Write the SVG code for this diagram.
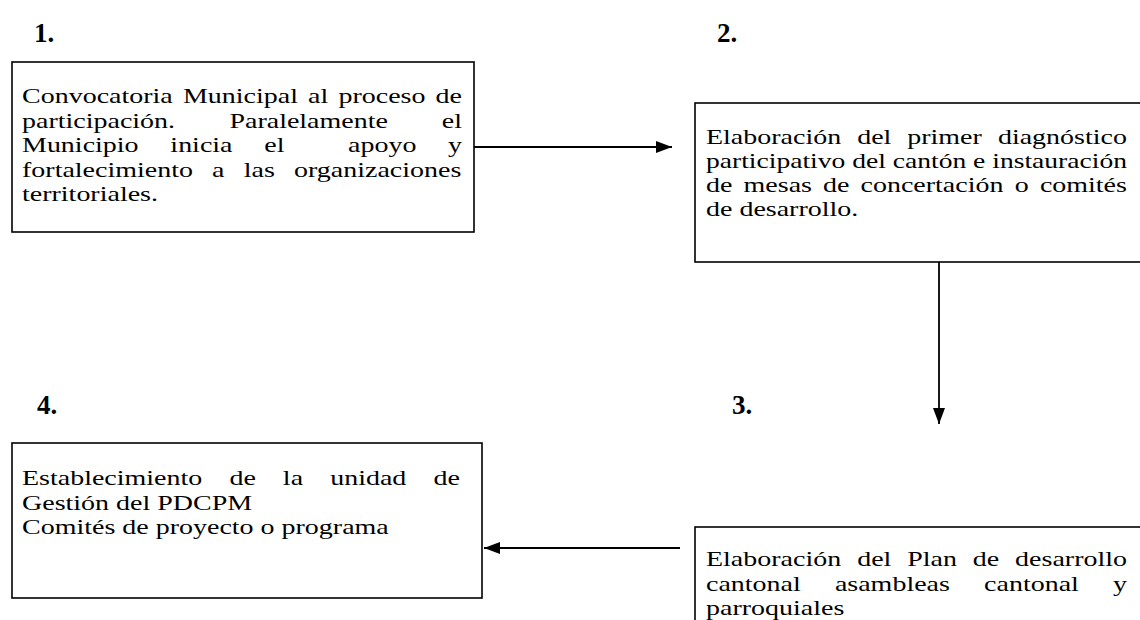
<svg xmlns="http://www.w3.org/2000/svg" width="1140" height="620" viewBox="0 0 1140 620">
<defs>
<marker id="ah" markerWidth="16" markerHeight="12" refX="16" refY="6" orient="auto" markerUnits="userSpaceOnUse">
<path d="M0,0 L16,6 L0,12 Z" fill="#000"/>
</marker>
<style>
.box{fill:#fff;stroke:#000;stroke-width:1.6}
.t{font-family:"Liberation Serif","Times New Roman",serif;font-size:21px;fill:#000}
.num{font-family:"Liberation Serif","Times New Roman",serif;font-size:27px;font-weight:bold;fill:#000}
.conn{stroke:#000;stroke-width:1.8;fill:none;marker-end:url(#ah)}
</style>
</defs>
<rect width="1140" height="620" fill="#fff"/>

<g id="node1">
<text class="num" x="34" y="42">1.</text>
<rect class="box" x="12" y="62" width="462" height="170"/>
<text class="t" transform="translate(22 0) scale(1.333 1)">
<tspan x="0" y="103">Convocatoria</tspan><tspan x="120.7" y="103">Municipal</tspan><tspan x="214.6" y="103">al</tspan><tspan x="237.4" y="103">proceso</tspan><tspan x="310.3" y="103">de</tspan>
<tspan x="0" y="128">participación.</tspan><tspan x="155.6" y="128">Paralelamente</tspan><tspan x="314.9" y="128">el</tspan>
<tspan x="0" y="152">Municipio</tspan><tspan x="111.3" y="152">inicia</tspan><tspan x="181.8" y="152">el</tspan><tspan x="244.6" y="152">apoyo</tspan><tspan x="319.6" y="152">y</tspan>
<tspan x="0" y="177">fortalecimiento</tspan><tspan x="142.6" y="177">a</tspan><tspan x="166.4" y="177">las</tspan><tspan x="204.1" y="177">organizaciones</tspan>
<tspan x="0" y="201">territoriales.</tspan>
</text>
</g>

<g id="node2">
<text class="num" x="717" y="42">2.</text>
<rect class="box" x="695" y="103" width="460" height="159"/>
<text class="t" transform="translate(706 0) scale(1.333 1)">
<tspan x="0" y="144">Elaboración</tspan><tspan x="113.4" y="144">del</tspan><tspan x="151.0" y="144">primer</tspan><tspan x="219.0" y="144">diagnóstico</tspan>
</text>
<text class="t" transform="translate(706 0) scale(1.333 1)" x="0" y="168" textLength="315.8" lengthAdjust="spacingAndGlyphs">participativo del cantón e instauración</text>
<text class="t" transform="translate(706 0) scale(1.333 1)">
<tspan x="0" y="192">de</tspan><tspan x="28.2" y="192">mesas</tspan><tspan x="87.8" y="192">de</tspan><tspan x="115.9" y="192">concertación</tspan><tspan x="231.6" y="192">o</tspan><tspan x="250.5" y="192">comités</tspan>
<tspan x="0" y="216">de desarrollo.</tspan>
</text>
</g>

<g id="node3">
<text class="num" x="732" y="414">3.</text>
<rect class="box" x="695" y="527" width="460" height="110"/>
<text class="t" transform="translate(706 0) scale(1.333 1)">
<tspan x="0" y="566">Elaboración</tspan><tspan x="113.4" y="566">del</tspan><tspan x="151.0" y="566">Plan</tspan><tspan x="200.2" y="566">de</tspan><tspan x="231.9" y="566">desarrollo</tspan>
<tspan x="0" y="591">cantonal</tspan><tspan x="96.7" y="591">asambleas</tspan><tspan x="208.6" y="591">cantonal</tspan><tspan x="305.3" y="591">y</tspan>
<tspan x="0" y="615">parroquiales</tspan>
</text>
</g>

<g id="node4">
<text class="num" x="37" y="414">4.</text>
<rect class="box" x="12" y="443" width="470" height="155"/>
<text class="t" transform="translate(22 0) scale(1.333 1)">
<tspan x="0" y="485">Establecimiento</tspan><tspan x="155.6" y="485">de</tspan><tspan x="195.7" y="485">la</tspan><tspan x="231.2" y="485">unidad</tspan><tspan x="308.8" y="485">de</tspan>
<tspan x="0" y="510">Gestión del PDCPM</tspan>
<tspan x="0" y="534">Comités de proyecto o programa</tspan>
</text>
</g>

<g id="connectors">
<line class="conn" x1="474" y1="147" x2="672" y2="147"/>
<line class="conn" x1="939" y1="262" x2="939" y2="424"/>
<line class="conn" x1="680" y1="548" x2="484" y2="548"/>
</g>
</svg>
